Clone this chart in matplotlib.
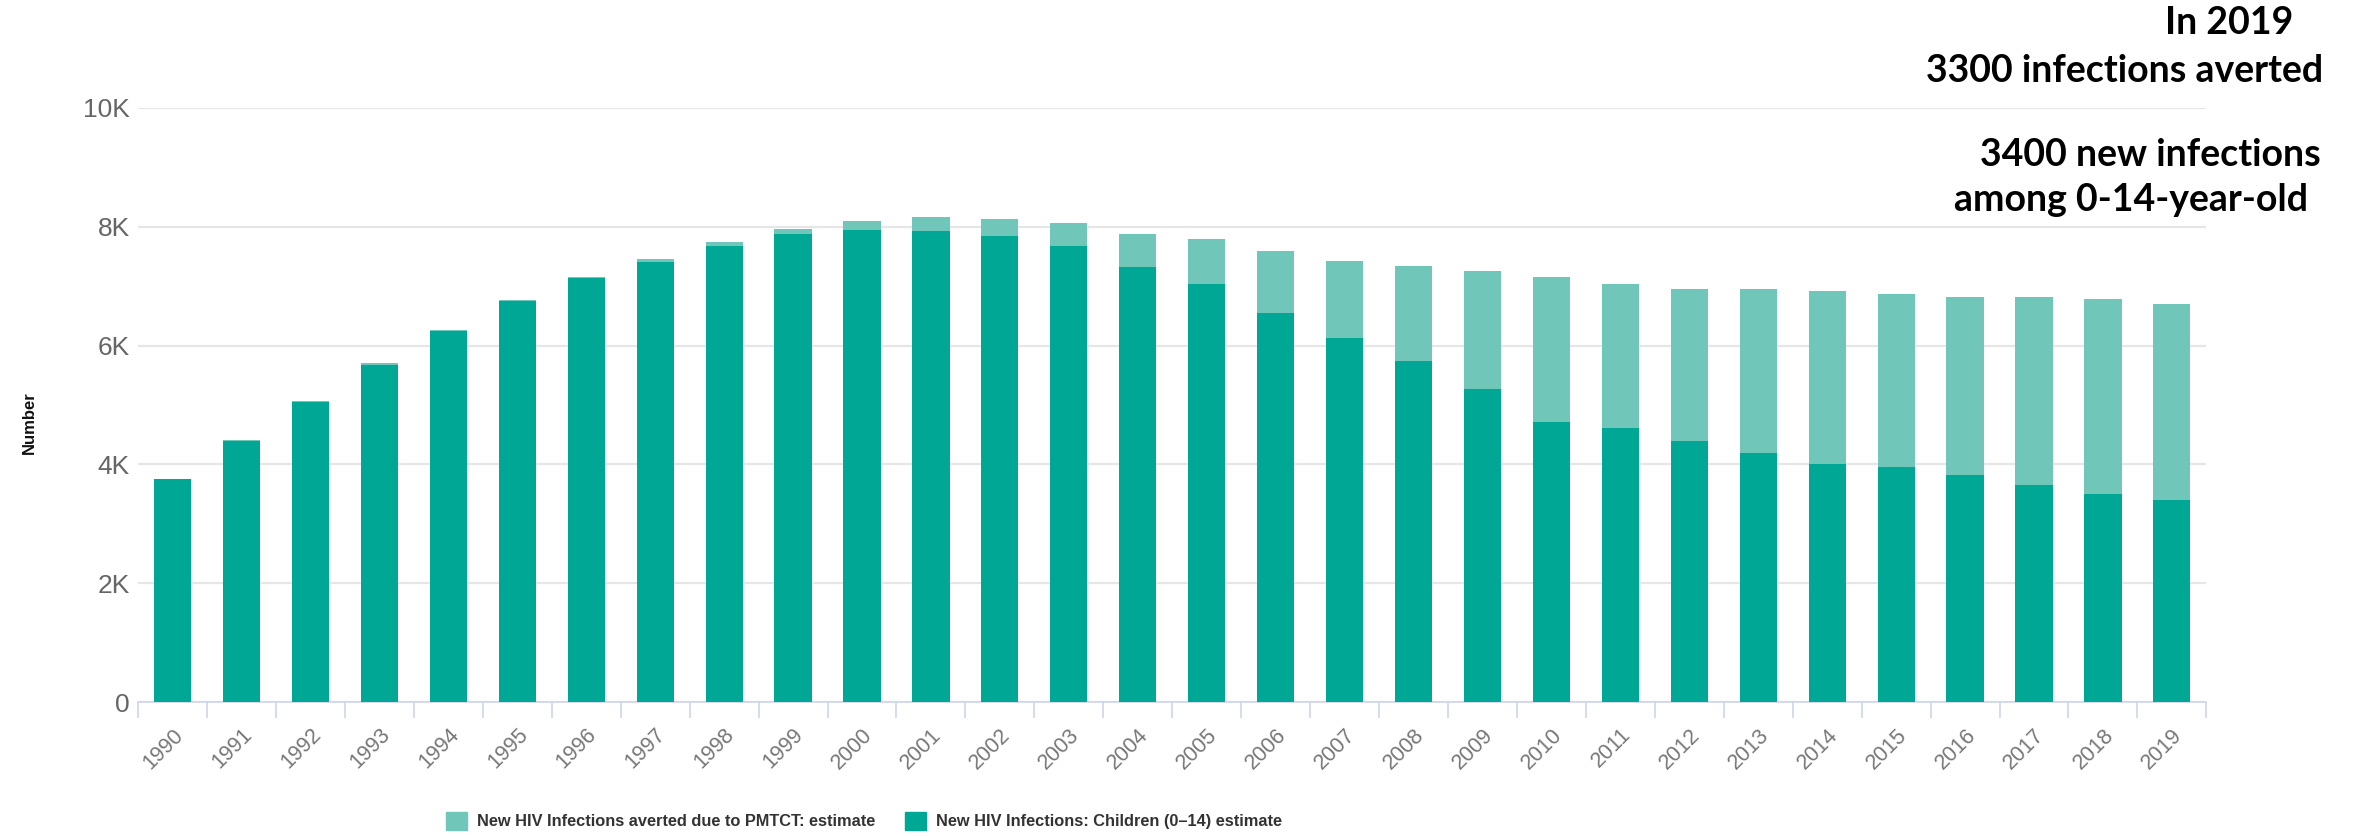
import numpy as np
import matplotlib.pyplot as plt
from matplotlib import font_manager
from matplotlib.patches import Patch

## data
years = [str(y) for y in range(1990, 2020)]
children_new = [3750, 4400, 5050, 5680, 6250, 6750, 7130, 7400, 7680, 7870,
                7940, 7930, 7850, 7680, 7330, 7030, 6550, 6130, 5740, 5270,
                4720, 4620, 4400, 4190, 4000, 3950, 3830, 3650, 3500, 3400]
total = [3750, 4420, 5060, 5700, 6270, 6770, 7150, 7460, 7740, 7960,
         8090, 8160, 8130, 8060, 7880, 7790, 7590, 7420, 7340, 7250,
         7150, 7040, 6950, 6950, 6920, 6860, 6820, 6810, 6780, 6700]
averted = [t - c for t, c in zip(total, children_new)]
yticks = [0, 2000, 4000, 6000, 8000, 10000]
ytick_labels = ['0', '2K', '4K', '6K', '8K', '10K']

dark = '#00a795'
light = '#6fc6b9'
grey_text = '#666666'

# legend + axis title use a condensed face in the original; use one if there is one
installed = {f.name for f in font_manager.fontManager.ttflist}
if 'Liberation Sans Narrow' in installed:
    narrow, leg_size, num_size = 'Liberation Sans Narrow', 13, 14
else:
    narrow, leg_size, num_size = 'Liberation Sans', 11.8, 12

fig = plt.figure(figsize=(23.61, 8.36), dpi=100)
ax = fig.add_axes([0.0585, 0.160, 0.876, 0.711])

x = np.arange(len(years))
ax.bar(x, children_new, width=0.54, color=dark, zorder=3)
ax.bar(x, averted, width=0.54, bottom=children_new, color=light, zorder=3)

ax.set_xlim(-0.5, len(years) - 0.5)
ax.set_ylim(0, 10000)
ax.set_yticks(yticks)
ax.set_yticklabels(ytick_labels, fontsize=19, color=grey_text, family='Liberation Sans')
ax.tick_params(axis='y', length=0, pad=6)
ax.yaxis.grid(True, color='#e6e6e6', linewidth=1.6, zorder=0)

ax.set_xticks(x)
ax.set_xticklabels(years, rotation=45, ha='right', va='top', rotation_mode='anchor',
                   fontsize=15.5, color='#777777', family='Liberation Sans')
ax.tick_params(axis='x', which='major', length=0, pad=16)
ax.set_xticks(np.arange(-0.5, len(years), 1.0), minor=True)
ax.tick_params(axis='x', which='minor', length=11.5, width=1.2, color='#ccd6eb')

for s in ['top', 'right', 'left']:
    ax.spines[s].set_visible(False)
ax.spines['bottom'].set_color('#ccd6eb')
ax.spines['bottom'].set_linewidth(1.2)

ax.set_ylabel('Number', fontsize=num_size, fontweight='bold', color='#111111', family=narrow)
ax.yaxis.set_label_coords(-0.049, 0.47)

handles = [Patch(color=light, label='New HIV Infections averted due to PMTCT: estimate'),
           Patch(color=dark, label='New HIV Infections: Children (0\u201314) estimate')]
fig.legend(handles=handles, loc='center', bbox_to_anchor=(0.366, 0.018), ncol=2, frameon=False,
           prop={'family': narrow, 'size': leg_size, 'weight': 'bold'}, labelcolor='#333333',
           handlelength=1.3, handleheight=1.3, handletextpad=0.6, columnspacing=1.8)

## annotation block in the upper right
note = dict(fontsize=27, fontweight='bold', family='Lato', color='black', ha='center', va='center')
fig.text(2229 / 2361, 1 - 23 / 836, 'In 2019', **note)
fig.text(2125 / 2361, 1 - 71 / 836, '3300 infections averted', **note)
fig.text(2150 / 2361, 1 - 155 / 836, '3400 new infections', **note)
fig.text(2131 / 2361, 1 - 200 / 836, 'among 0-14-year-old', **note)

fig.savefig('out.png', dpi=100)
